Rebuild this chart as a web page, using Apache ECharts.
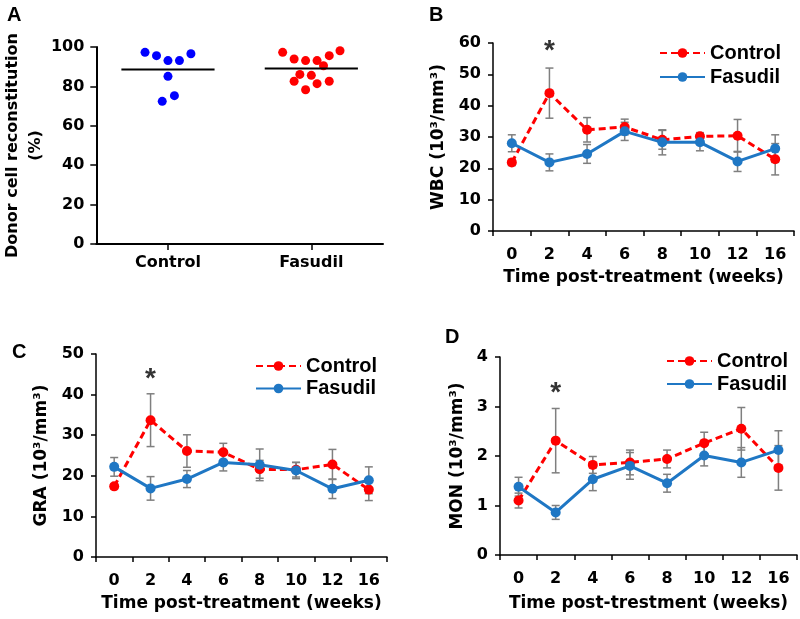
<!DOCTYPE html>
<html>
<head>
<meta charset="utf-8">
<script src="https://cdn.jsdelivr.net/npm/echarts@6/dist/echarts.min.js"></script>
<style>html,body{margin:0;padding:0;background:#fff}#c{width:800px;height:619px}</style>
</head>
<body>
<div id="c"></div>
<script>
// ---------- Panel A: donor cell reconstitution ----------
const groups = ['Control', 'Fasudil'];
const donorControl = [97.3, 95.6, 93.1, 93.1, 96.6, 85.1, 75.3, 72.4];
const donorControlJitter = [-0.16, -0.08, 0, 0.08, 0.16, 0, 0.045, -0.04];
const donorFasudil = [97.3, 93.9, 93.1, 93.1, 90.5, 95.6, 98.1, 86.1, 85.6, 82.6, 81.4, 82.6, 78.3];
const donorFasudilJitter = [-0.2, -0.12, -0.04, 0.04, 0.085, 0.125, 0.2, -0.08, 0, -0.12, 0.04, 0.125, -0.04];

// ---------- Panels B-D: time courses ----------
const weeks = ['0', '2', '4', '6', '8', '10', '12', '16'];
const wbcControl    = [21.9, 44.0, 32.3, 33.2, 29.1, 30.2, 30.4, 22.9];
const wbcControlErr = [1.0, 8.0, 3.9, 2.5, 3.0, 1.2, 5.2, 5.0];
const wbcFasudil    = [28.0, 21.9, 24.6, 31.8, 28.3, 28.3, 22.2, 26.3];
const wbcFasudilErr = [2.7, 2.7, 3.0, 2.9, 4.0, 2.7, 3.2, 4.4];

const graControl    = [17.4, 33.7, 26.1, 25.8, 21.6, 21.5, 22.8, 16.6];
const graControlErr = [0.6, 6.5, 4.0, 2.2, 2.2, 1.8, 3.7, 2.7];
const graFasudil    = [22.2, 16.9, 19.2, 23.3, 22.7, 21.3, 16.8, 18.9];
const graFasudilErr = [2.3, 2.9, 2.1, 2.1, 3.9, 2.0, 2.4, 3.3];

const monControl    = [1.10, 2.31, 1.82, 1.87, 1.94, 2.26, 2.55, 1.76];
const monControlErr = [0.15, 0.65, 0.17, 0.25, 0.18, 0.22, 0.43, 0.45];
const monFasudil    = [1.38, 0.86, 1.53, 1.80, 1.45, 2.01, 1.87, 2.12];
const monFasudilErr = [0.19, 0.14, 0.23, 0.27, 0.18, 0.21, 0.30, 0.39];

// significance markers: [category, height]
const starB = [['2', 59.5]];
const starC = [['2', 45.5]];
const starD = [['2', 3.40]];

// ---------- styling ----------
const RED = '#ff0000';
const BLUE = '#1f77c4';
const AX_FONT = 'DejaVu Sans';
const LEG_FONT = 'Liberation Sans';
const axisLineStyle = { color: '#000', width: 1.5 };
const labelStyle = { color: '#000', fontFamily: AX_FONT, fontWeight: 'bold', fontSize: 16 };
const nameStyle = { color: '#000', fontFamily: AX_FONT, fontWeight: 'bold', fontSize: 17 };

const mean = a => a.reduce((s, v) => s + v, 0) / a.length;

function errRender(params, api) {
  const x = api.value(0);
  const pLo = api.coord([x, api.value(1)]);
  const pHi = api.coord([x, api.value(2)]);
  const w = 4;
  const style = { stroke: '#7f7f7f', lineWidth: 1.5 };
  return {
    type: 'group',
    children: [
      { type: 'line', shape: { x1: pLo[0], y1: pLo[1], x2: pHi[0], y2: pHi[1] }, style },
      { type: 'line', shape: { x1: pLo[0] - w, y1: pLo[1], x2: pLo[0] + w, y2: pLo[1] }, style },
      { type: 'line', shape: { x1: pHi[0] - w, y1: pHi[1], x2: pHi[0] + w, y2: pHi[1] }, style }
    ]
  };
}
const errData = (vals, errs) => vals.map((v, i) => [i, v - errs[i], v + errs[i]]);

const grids = [
  { left: 87, top: 47, width: 296, height: 197 },   // A
  { left: 493, top: 43, width: 301, height: 188 },  // B
  { left: 96, top: 354, width: 291, height: 203 },  // C
  { left: 500, top: 357, width: 297, height: 198 }  // D
];

function catAxis(gridIndex, xName, nameGap) {
  return {
    type: 'category', gridIndex, data: weeks, boundaryGap: true,
    axisLine: { lineStyle: axisLineStyle },
    axisTick: { show: true, length: 5, lineStyle: { color: '#000', width: 1.5 } },
    axisLabel: Object.assign({ margin: 16, interval: 0 }, labelStyle),
    name: xName, nameLocation: 'middle', nameGap, nameTextStyle: nameStyle
  };
}
function valAxis(gridIndex, max, interval, yName, nameGap) {
  return {
    type: 'value', gridIndex, min: 0, max, interval,
    axisLine: { show: true, onZero: false, lineStyle: axisLineStyle },
    axisTick: { show: true, length: 5, lineStyle: { color: '#000', width: 1.5 } },
    splitLine: { show: false },
    axisLabel: Object.assign({ margin: 12 }, labelStyle),
    name: yName, nameLocation: 'middle', nameGap, nameTextStyle: nameStyle
  };
}

const xAxes = [
  { // A visible category axis
    type: 'category', gridIndex: 0, data: groups, boundaryGap: true,
    axisLine: { lineStyle: { color: '#000', width: 2 } },
    axisTick: { show: true, alignWithLabel: true, length: 6, lineStyle: { color: '#000', width: 1.5 } },
    axisLabel: Object.assign({ margin: 11 }, labelStyle)
  },
  { // A hidden numeric axis for jittered dots
    type: 'value', gridIndex: 0, min: -0.5, max: 1.5, show: false
  },
  catAxis(1, 'Time post-treatment (weeks)', 38),
  catAxis(2, 'Time post-treatment (weeks)', 38),
  catAxis(3, 'Time post-trestment (weeks)', 40)
];
const yAxes = [
  Object.assign(valAxis(0, 100, 20, 'Donor cell reconstitution\n(%)', 40), {
    axisLine: { show: true, onZero: false, lineStyle: { color: '#000', width: 2 } },
    axisTick: { show: true, length: 6, lineStyle: { color: '#000', width: 1.5 } },
    nameTextStyle: Object.assign({}, nameStyle, { fontSize: 16, lineHeight: 23 })
  }),
  valAxis(1, 60, 10, 'WBC (10³/mm³)', 46),
  valAxis(2, 50, 10, 'GRA (10³/mm³)', 46),
  valAxis(3, 4, 1, 'MON (10³/mm³)', 34)
];

const series = [];
// Panel A
series.push({
  name: 'Donor Control', type: 'scatter', xAxisIndex: 1, yAxisIndex: 0,
  data: donorControl.map((v, i) => [0 + donorControlJitter[i], v]),
  symbolSize: 9, itemStyle: { color: '#0000ff', opacity: 1 }
});
series.push({
  name: 'Donor Fasudil', type: 'scatter', xAxisIndex: 1, yAxisIndex: 0,
  data: donorFasudil.map((v, i) => [1 + donorFasudilJitter[i], v]),
  symbolSize: 9, itemStyle: { color: '#ff0000', opacity: 1 }
});
[donorControl, donorFasudil].forEach((arr, g) => {
  const m = mean(arr);
  series.push({
    name: 'Mean ' + groups[g], type: 'line', xAxisIndex: 1, yAxisIndex: 0,
    data: [[g - 0.325, m], [g + 0.325, m]], symbol: 'none',
    lineStyle: { color: '#000', width: 2 }, z: 5
  });
});

// Panels B-D
const panels = [
  { axis: 2, yAxis: 1, c: wbcControl, ce: wbcControlErr, f: wbcFasudil, fe: wbcFasudilErr, star: starB },
  { axis: 3, yAxis: 2, c: graControl, ce: graControlErr, f: graFasudil, fe: graFasudilErr, star: starC },
  { axis: 4, yAxis: 3, c: monControl, ce: monControlErr, f: monFasudil, fe: monFasudilErr, star: starD }
];
panels.forEach(p => {
  series.push({ type: 'custom', xAxisIndex: p.axis, yAxisIndex: p.yAxis, renderItem: errRender,
    data: errData(p.c, p.ce), encode: { x: 0, y: [1, 2] }, z: 1, silent: true });
  series.push({ type: 'custom', xAxisIndex: p.axis, yAxisIndex: p.yAxis, renderItem: errRender,
    data: errData(p.f, p.fe), encode: { x: 0, y: [1, 2] }, z: 1, silent: true });
  series.push({
    name: 'Control', type: 'line', xAxisIndex: p.axis, yAxisIndex: p.yAxis, data: p.c,
    symbol: 'circle', symbolSize: 10, itemStyle: { color: RED },
    lineStyle: { color: RED, width: 3, type: [7, 4] }, z: 3
  });
  series.push({
    name: 'Fasudil', type: 'line', xAxisIndex: p.axis, yAxisIndex: p.yAxis, data: p.f,
    symbol: 'circle', symbolSize: 10, itemStyle: { color: BLUE },
    lineStyle: { color: BLUE, width: 3 }, z: 4
  });
  series.push({
    type: 'scatter', xAxisIndex: p.axis, yAxisIndex: p.yAxis, data: p.star,
    symbolSize: 1, itemStyle: { color: 'rgba(0,0,0,0)' }, silent: true,
    label: { show: true, formatter: '*', position: 'inside', offset: [0, 7],
      fontSize: 28, fontWeight: 'bold', fontFamily: LEG_FONT, color: '#000' }
  });
});

function legend(left, top, gap) {
  return {
    data: ['Control', 'Fasudil'], orient: 'vertical', left, top,
    itemWidth: 45, itemHeight: 12, itemGap: gap, selectedMode: false,
    textStyle: { fontFamily: LEG_FONT, fontWeight: 'bold', fontSize: 20, color: '#000', lineHeight: 20 }
  };
}

const letter = (text, left, top) => ({
  text, left, top,
  textStyle: { fontFamily: LEG_FONT, fontWeight: 'bold', fontSize: 20, color: '#000' }
});

const chart = echarts.init(document.getElementById('c'), null, { renderer: 'canvas' });
chart.setOption({
  animation: false,
  backgroundColor: '#fff',
  title: [letter('A', 2, 0), letter('B', 424, 0), letter('C', 7, 337), letter('D', 440, 322)],
  grid: grids,
  xAxis: xAxes,
  yAxis: yAxes,
  legend: [legend(654, 38, 4), legend(250, 351, 2.5), legend(661, 346, 3)],
  series
});
</script>
</body>
</html>
